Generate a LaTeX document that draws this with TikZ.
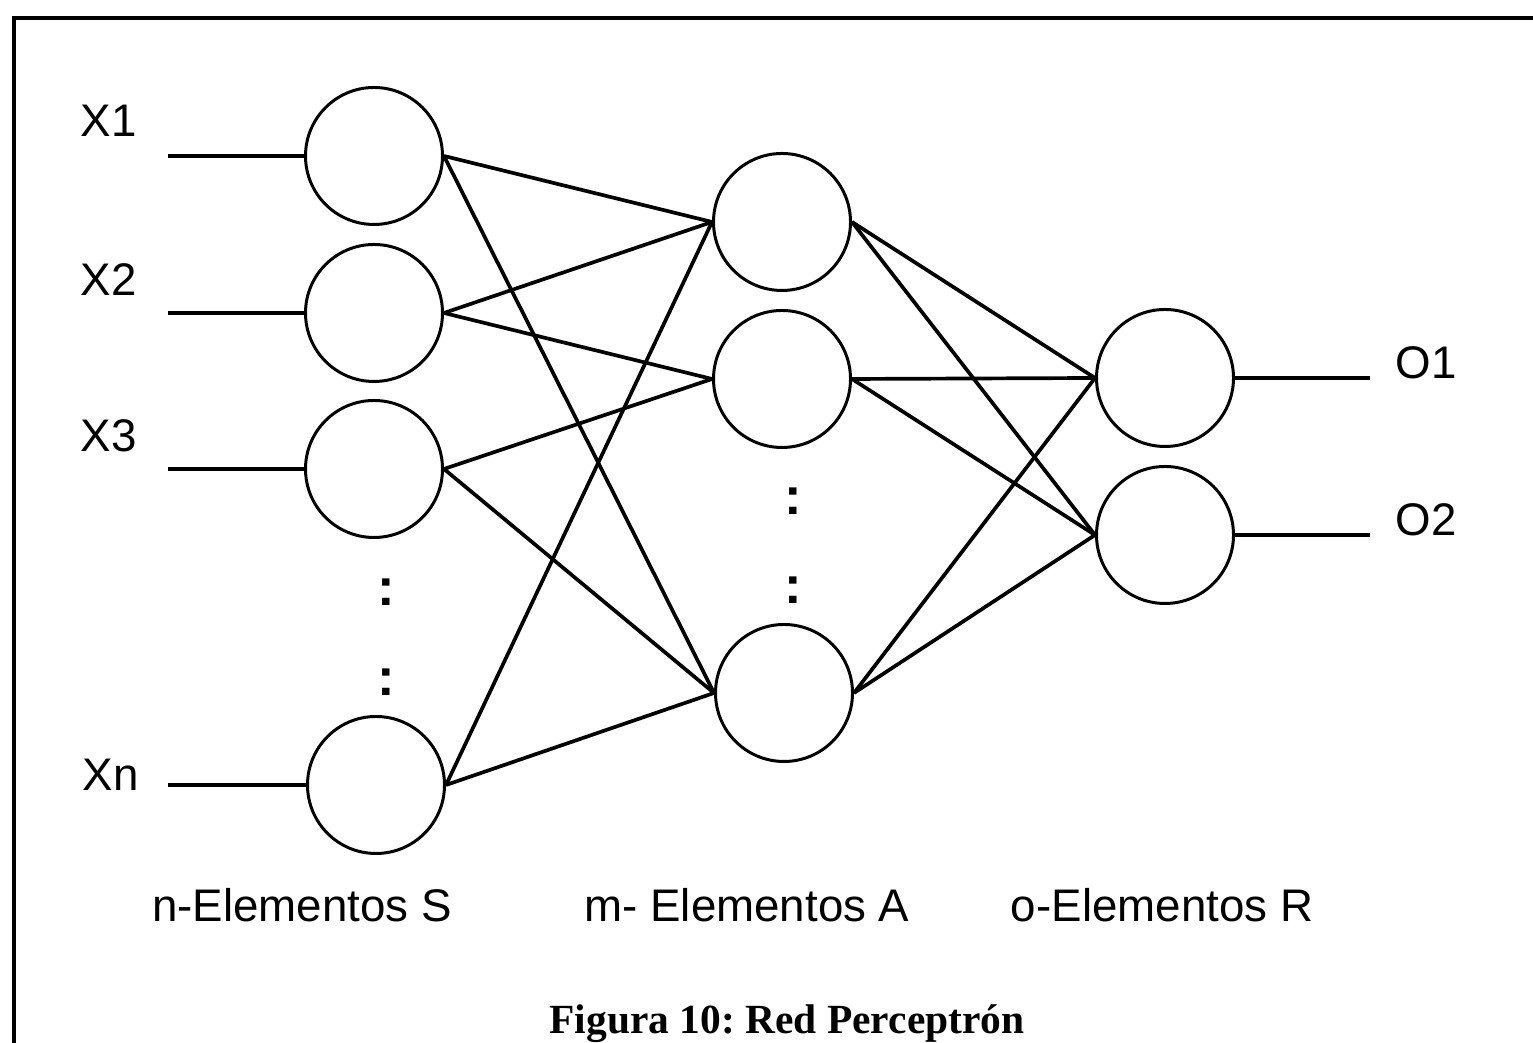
\documentclass[tikz,border=0pt]{standalone}
\usepackage{fontspec}
\setmainfont{Liberation Serif}
\setsansfont{Liberation Sans}
\usetikzlibrary{positioning}

\begin{document}
\frenchspacing
\begin{tikzpicture}[
    every node/.style={font=\sffamily\fontsize{13}{15}\selectfont},
    neuron/.style={draw, circle, line width=0.85pt, minimum size=1.37cm, inner sep=0pt},
    link/.style={line width=1.05pt},
    inlbl/.style={anchor=west, inner sep=0pt},
    vdots/.style={inner sep=0pt, font=\sffamily\bfseries\fontsize{15}{15}\selectfont},
    layerlbl/.style={anchor=base, inner sep=0pt}
]
\useasboundingbox (0,0) rectangle (15.33,10.43);
% Frame (cut at right and bottom)
\draw[line width=1.1pt] (0.14,-0.5) -- (0.14,10.25) -- (15.6,10.25);
% S layer
\node[neuron] (s1) at (3.74,8.87) {};
\node[neuron] (s2) at (3.74,7.30) {};
\node[neuron] (s3) at (3.74,5.74) {};
\node[neuron] (sn) at (3.76,2.58) {};
\node[vdots] (sd1) at (3.86,4.51) {:};
\node[vdots] (sd2) at (3.86,3.61) {:};
% A layer
\node[neuron] (a1) at (7.82,8.21) {};
\node[neuron] (a2) at (7.82,6.64) {};
\node[neuron] (a3) at (7.84,3.50) {};
\node[vdots] (ad1) at (7.93,5.42) {:};
\node[vdots] (ad2) at (7.93,4.53) {:};
% R layer
\node[neuron] (r1) at (11.65,6.65) {};
\node[neuron] (r2) at (11.65,5.08) {};
% Inputs
\coordinate (in1) at (1.68,8.87);
\coordinate (in2) at (1.68,7.30);
\coordinate (in3) at (1.68,5.74);
\coordinate (inn) at (1.68,2.58);
\node[inlbl] (x1) at (0.80,9.22) {X1};
\node[inlbl] (x2) at (0.80,7.63) {X2};
\node[inlbl] (x3) at (0.80,6.07) {X3};
\node[inlbl] (xn) at (0.82,2.68) {Xn};
\foreach \i/\s in {in1/s1, in2/s2, in3/s3, inn/sn}
    \draw[link] (\i) -- (\s.west);
% Outputs
\coordinate (out1) at (13.70,6.65);
\coordinate (out2) at (13.70,5.08);
\node[inlbl] (o1) at (13.95,6.80) {O1};
\node[inlbl] (o2) at (13.95,5.23) {O2};
\draw[link] (r1.east) -- (out1);
\draw[link] (r2.east) -- (out2);
% S -> A
\foreach \s/\a in {s1/a1, s1/a3, s2/a1, s2/a2, s3/a2, s3/a3, sn/a1, sn/a3}
    \draw[link] (\s.east) -- (\a.west);
% A -> R
\foreach \a in {a1, a2, a3}
    \foreach \r in {r1, r2}
        \draw[link] (\a.east) -- (\r.west);
% Layer names
\node[layerlbl] (ls) at (3.02,1.21) {n-Elementos S};
\node[layerlbl] (la) at (7.47,1.21) {m- Elementos A};
\node[layerlbl] (lr) at (11.62,1.21) {o-Elementos R};
% Caption
\node[layerlbl, font=\rmfamily\bfseries\fontsize{11.8}{13}\selectfont] (cap) at (7.87,0.09) {Figura 10: Red Perceptrón};
\end{tikzpicture}
\end{document}
